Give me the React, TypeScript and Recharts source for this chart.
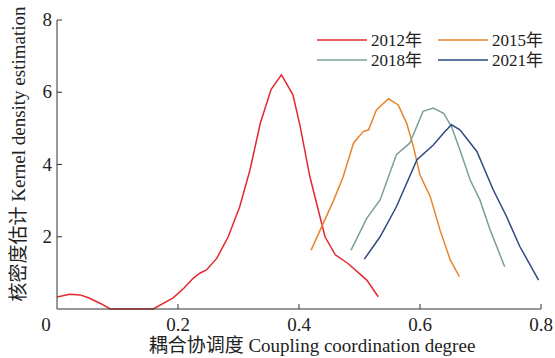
import { LineChart, Line, XAxis, YAxis, Label } from "recharts";

const FONT = '"Liberation Serif", "Noto Sans CJK SC", serif';

const xTicks = [0, 0.2, 0.4, 0.6, 0.8];
const yTicks = [0, 2, 4, 6, 8];

const data2012 = [
  { x: 0.0, y: 0.33 }, { x: 0.021, y: 0.41 }, { x: 0.038, y: 0.39 }, { x: 0.052, y: 0.31 },
  { x: 0.071, y: 0.16 }, { x: 0.088, y: 0.0 }, { x: 0.159, y: 0.0 }, { x: 0.192, y: 0.31 },
  { x: 0.21, y: 0.58 }, { x: 0.225, y: 0.85 }, { x: 0.236, y: 0.99 }, { x: 0.247, y: 1.08 },
  { x: 0.264, y: 1.4 }, { x: 0.283, y: 2.0 }, { x: 0.302, y: 2.83 }, { x: 0.319, y: 3.85 },
  { x: 0.336, y: 5.14 }, { x: 0.354, y: 6.08 }, { x: 0.371, y: 6.48 }, { x: 0.39, y: 5.93 },
  { x: 0.402, y: 5.05 }, { x: 0.418, y: 3.66 }, { x: 0.443, y: 2.0 }, { x: 0.46, y: 1.5 },
  { x: 0.481, y: 1.26 }, { x: 0.512, y: 0.8 }, { x: 0.531, y: 0.34 },
];

const data2015 = [
  { x: 0.42, y: 1.63 }, { x: 0.457, y: 3.0 }, { x: 0.473, y: 3.66 }, { x: 0.49, y: 4.59 },
  { x: 0.506, y: 4.91 }, { x: 0.515, y: 4.96 }, { x: 0.528, y: 5.51 }, { x: 0.548, y: 5.82 },
  { x: 0.564, y: 5.65 }, { x: 0.578, y: 5.14 }, { x: 0.589, y: 4.5 }, { x: 0.6, y: 3.71 },
  { x: 0.617, y: 3.11 }, { x: 0.633, y: 2.19 }, { x: 0.65, y: 1.36 }, { x: 0.665, y: 0.9 },
];

const data2018 = [
  { x: 0.486, y: 1.63 }, { x: 0.512, y: 2.51 }, { x: 0.534, y: 3.02 }, { x: 0.561, y: 4.27 },
  { x: 0.583, y: 4.59 }, { x: 0.605, y: 5.47 }, { x: 0.622, y: 5.56 }, { x: 0.639, y: 5.42 },
  { x: 0.652, y: 5.05 }, { x: 0.666, y: 4.4 }, { x: 0.683, y: 3.57 }, { x: 0.699, y: 3.02 },
  { x: 0.716, y: 2.19 }, { x: 0.74, y: 1.17 },
];

const data2021 = [
  { x: 0.508, y: 1.38 }, { x: 0.534, y: 2.0 }, { x: 0.561, y: 2.83 }, { x: 0.595, y: 4.13 },
  { x: 0.622, y: 4.54 }, { x: 0.639, y: 4.87 }, { x: 0.652, y: 5.1 }, { x: 0.666, y: 4.96 },
  { x: 0.694, y: 4.36 }, { x: 0.721, y: 3.3 }, { x: 0.743, y: 2.56 }, { x: 0.765, y: 1.73 },
  { x: 0.796, y: 0.8 },
];

const series = [
  { name: "2012年", data: data2012, color: "#e3282c" },
  { name: "2015年", data: data2015, color: "#e8842c" },
  { name: "2018年", data: data2018, color: "#7d9f97" },
  { name: "2021年", data: data2021, color: "#2f4a7e" },
];

function XTick(props: any) {
  const { x, y, payload } = props;
  const v = payload.value;
  const dx = v === 0 ? -11 : 0;
  return (
    <g>
      {v !== 0 && <line x1={x} y1={y} x2={x} y2={y - 5} stroke="#333" strokeWidth={1} />}
      <text x={x + dx} y={y + 22} textAnchor="middle" fontFamily={FONT} fontSize={19} fill="#222">
        {v === 0 ? "0" : v.toFixed(1)}
      </text>
    </g>
  );
}

function YTick(props: any) {
  const { x, y, payload } = props;
  const v = payload.value;
  if (v === 0) return <g />;
  return (
    <g>
      <line x1={x} y1={y} x2={x + 5} y2={y} stroke="#333" strokeWidth={1} />
      <text x={x - 5} y={y + 6} textAnchor="end" fontFamily={FONT} fontSize={19} fill="#222">
        {v}
      </text>
    </g>
  );
}

export default function App() {
  return (
    <div style={{ position: "absolute", left: 0, top: 0, width: 555, height: 358, background: "#fff" }}>
      <LineChart width={555} height={358} margin={{ top: 20, right: 14, left: 0, bottom: 0 }}>
        <XAxis
          type="number"
          dataKey="x"
          domain={[0, 0.8]}
          ticks={xTicks}
          tick={<XTick />}
          tickLine={false}
          tickSize={0}
          tickMargin={0}
          height={49}
          axisLine={{ stroke: "#333" }}
          allowDataOverflow
        >
          <Label
            content={() => (
              <text x={312} y={352} textAnchor="middle" fontFamily={FONT} fontSize={19} fill="#222">
                耦合协调度 Coupling coordination degree
              </text>
            )}
          />
        </XAxis>
        <YAxis
          type="number"
          dataKey="y"
          domain={[0, 8]}
          ticks={yTicks}
          tick={<YTick />}
          tickLine={false}
          tickSize={0}
          tickMargin={0}
          width={57}
          axisLine={{ stroke: "#333" }}
        >
          <Label
            content={() => (
              <text
                x={25}
                y={154}
                transform="rotate(-90 25 154)"
                textAnchor="middle"
                fontFamily={FONT}
                fontSize={19}
                fill="#222"
              >
                核密度估计 Kernel density estimation
              </text>
            )}
          />
        </YAxis>
        {series.map((s) => (
          <Line
            key={s.name}
            data={s.data}
            dataKey="y"
            type="linear"
            stroke={s.color}
            strokeWidth={1.5}
            dot={false}
            isAnimationActive={false}
          />
        ))}
      </LineChart>
      <svg width={555} height={80} style={{ position: "absolute", left: 0, top: 0 }}>
        {series.map((s, i) => {
          const col = i % 2;
          const row = Math.floor(i / 2);
          const lx = col === 0 ? 317 : 438;
          const ly = row === 0 ? 40 : 60;
          return (
            <g key={s.name}>
              <line x1={lx} y1={ly} x2={lx + 50} y2={ly} stroke={s.color} strokeWidth={1.5} />
              <text x={lx + 54} y={ly + 6} fontFamily={FONT} fontSize={17} fill="#222">
                {s.name}
              </text>
            </g>
          );
        })}
      </svg>
    </div>
  );
}
